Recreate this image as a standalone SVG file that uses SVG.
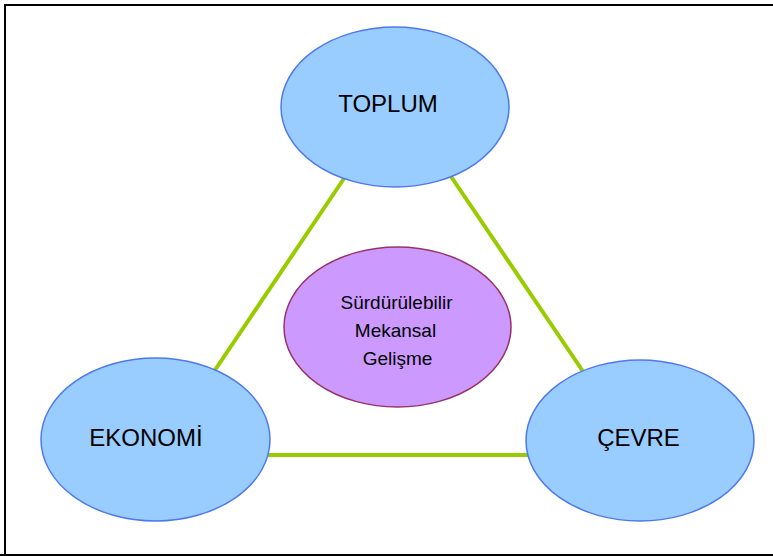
<svg xmlns="http://www.w3.org/2000/svg" width="773" height="556" viewBox="0 0 773 556">
<style>
.blue{fill:#99CCFF;stroke:#4D79F0;stroke-width:1.5}
.purple{fill:#CC99FF;stroke:#993366;stroke-width:1.5}
.conn{stroke:#99CC00;stroke-width:4;fill:none}
.lbl{font-family:"Liberation Sans",Arial,sans-serif;font-size:24px;fill:#000;text-anchor:middle}
.sm{font-family:"Liberation Sans",Arial,sans-serif;font-size:19px;fill:#000;text-anchor:middle}
</style>
<rect x="0" y="0" width="773" height="556" fill="#FFFFFF"/>
<path d="M5,556 L5,5 L773,5 M0,555 L773,555" fill="none" stroke="#000" stroke-width="2"/>
<g id="connectors">
<line class="conn" x1="349.7" y1="170" x2="208.3" y2="380"/>
<line class="conn" x1="446.6" y1="170" x2="588.8" y2="380"/>
<line class="conn" x1="260" y1="455" x2="536" y2="455"/>
</g>
<g id="toplum">
<ellipse class="blue" cx="395" cy="107" rx="114" ry="80"/>
<text class="lbl" x="388" y="112">TOPLUM</text>
</g>
<g id="center">
<ellipse class="purple" cx="397.5" cy="327" rx="113.5" ry="80"/>
<text class="sm" x="396.5" y="309">Sürdürülebilir</text>
<text class="sm" x="395.5" y="337">Mekansal</text>
<text class="sm" x="397.5" y="365">Gelişme</text>
</g>
<g id="ekonomi">
<ellipse class="blue" cx="155.5" cy="439.5" rx="114.5" ry="81.5"/>
<text class="lbl" x="146" y="446">EKONOMİ</text>
</g>
<g id="cevre">
<ellipse class="blue" cx="640" cy="440.5" rx="114" ry="80.5"/>
<text class="lbl" x="638.5" y="446">ÇEVRE</text>
</g>
</svg>
